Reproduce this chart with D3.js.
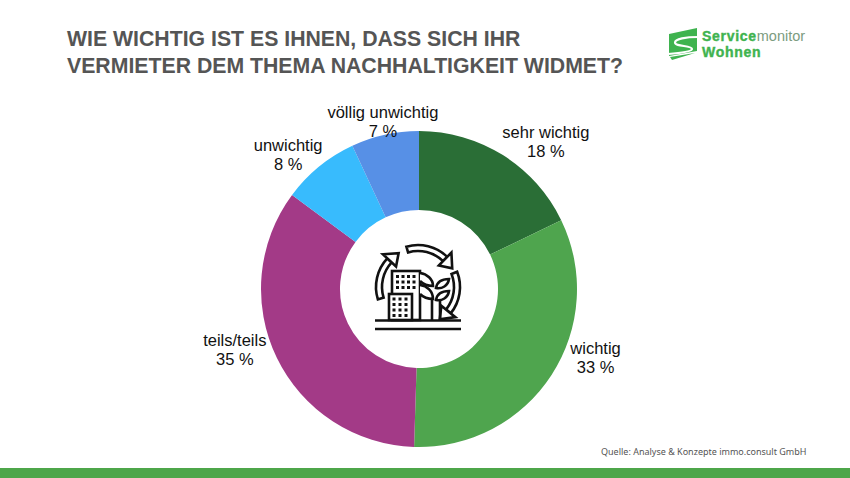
<!DOCTYPE html>
<html>
<head>
<meta charset="utf-8">
<script src="https://cdn.jsdelivr.net/npm/d3@7"></script>
<style>
  html, body { margin: 0; padding: 0; background: #fff; }
  svg { display: block; }
</style>
</head>
<body>
<svg id="chart"></svg>
<script>
const categories = ["sehr wichtig", "wichtig", "teils/teils", "unwichtig", "völlig unwichtig"];
const values = [18, 33, 35, 8, 7];
const colors = ["#2a6e36", "#4fa54e", "#a33a87", "#38bbfd", "#5790e6"];
const titleLines = ["WIE WICHTIG IST ES IHNEN, DASS SICH IHR", "VERMIETER DEM THEMA NACHHALTIGKEIT WIDMET?"];
const source = "Quelle: Analyse & Konzepte immo.consult GmbH";

const width = 850, height = 478;
const cx = 419, cy = 289;
const outerR = 158, innerR = 79;
const labelFont = "'Liberation Sans', Arial, sans-serif";

const svg = d3.select("#chart").attr("width", width).attr("height", height);

// title
svg.selectAll("text.title")
  .data(titleLines)
  .enter().append("text")
  .attr("class", "title")
  .attr("x", 67)
  .attr("y", (d, i) => 46 + i * 26.7)
  .attr("font-family", labelFont)
  .attr("font-weight", "bold")
  .attr("font-size", 21.25)
  .attr("fill", "#555555")
  .text((d) => d);

// donut
const pie = d3.pie().sort(null).value((d) => d)(values);
const arc = d3.arc().innerRadius(innerR).outerRadius(outerR);
const chart = svg.append("g").attr("transform", `translate(${cx},${cy})`);

chart.selectAll("path.slice")
  .data(pie)
  .enter().append("path")
  .attr("class", "slice")
  .attr("d", arc)
  .attr("fill", (d, i) => colors[i]);

// labels sit just outside the ring, nudged per slice like the original
const labelArc = d3.arc().innerRadius(outerR).outerRadius(outerR);
const labelNudge = [[43, -13], [44, -17], [-42, -8], [-31, -12], [-2, -13]];
const labels = chart.selectAll("text.label")
  .data(pie)
  .enter().append("text")
  .attr("class", "label")
  .attr("text-anchor", "middle")
  .attr("font-family", labelFont)
  .attr("font-size", 16.5)
  .attr("fill", "#111111")
  .attr("transform", (d, i) => {
    const c = labelArc.centroid(d);
    return `translate(${c[0] + labelNudge[i][0]},${c[1] + labelNudge[i][1]})`;
  });
labels.append("tspan").attr("x", 0).attr("y", -4).text((d, i) => categories[i]);
labels.append("tspan").attr("x", 0).attr("y", 15).text((d) => d.data + " %");

// centre icon
const icon = svg.append("g").attr("fill", "none").attr("stroke", "#111").attr("stroke-width", 2.6);
const ring = d3.arc().innerRadius(36).outerRadius(42);
function cycleArrow(a0, a1) {
  const g = icon.append("g").attr("transform", "translate(418,287)");
  g.append("path")
    .attr("d", ring({startAngle: a0, endAngle: a1}))
    .attr("fill", "#fff");
  const p = (r, a) => [r * Math.sin(a), -r * Math.cos(a)];
  g.append("path")
    .attr("fill", "#fff")
    .attr("stroke-linejoin", "miter")
    .attr("d", "M" + [p(30, a1), p(48, a1), p(39, a1 + 0.3)].join("L") + "Z");
}
cycleArrow(-0.28, 0.77);
cycleArrow(1.2, 2.25);
cycleArrow(-1.87, -0.82);

icon.append("rect").attr("x", 392).attr("y", 271).attr("width", 28).attr("height", 49).attr("fill", "#fff");
icon.append("rect").attr("x", 389).attr("y", 294).attr("width", 23).attr("height", 26).attr("fill", "#fff");
// windows
d3.range(3).forEach((r) => d3.range(4).forEach((c) => {
  icon.append("rect").attr("x", 396 + c * 5.5).attr("y", 275 + r * 5.5)
    .attr("width", 3).attr("height", 3).attr("fill", "#111").attr("stroke", "none");
}));
d3.range(4).forEach((r) => d3.range(3).forEach((c) => {
  icon.append("rect").attr("x", 392.5 + c * 6).attr("y", 297.5 + r * 5.5)
    .attr("width", 3).attr("height", 3).attr("fill", "#111").attr("stroke", "none");
}));
// plant
icon.append("path").attr("d", "M432 320V297M440 320V299");
icon.append("path").attr("d", "M420 273C427 274 433 279 433 286C428 286 423 284 420 281").attr("fill", "#fff");
icon.append("path").attr("d", "M420 285C427 286 433 291 433 299C428 299 423 297 420 294").attr("fill", "#fff");
icon.append("path").attr("d", "M436 288C437 282 442 279 449 279C448 286 442 289 436 288Z").attr("fill", "#fff");
icon.append("path").attr("d", "M436 300C437 294 442 291 449 291C448 298 442 301 436 300Z").attr("fill", "#fff");
icon.append("path").attr("d", "M375 320.5H461M375 329H461").attr("stroke-width", 2.6);

// logo
const logo = svg.append("g");
logo.append("path")
  .attr("fill", "#3fb34f")
  .attr("d", "M669 34L697 28V51L669 56Z");
logo.append("path")
  .attr("fill", "none").attr("stroke", "#fff").attr("stroke-width", 2.2)
  .attr("d", "M698 37C686 37 675 39 675 42.5C675 47 692 45 692 49C692 51.5 680 53 668 54");
logo.append("path")
  .attr("fill", "#3fb34f")
  .attr("d", "M670 57L695 53L672 60Z");
const logoLine = logo.append("text")
  .attr("x", 702).attr("y", 41)
  .attr("font-family", labelFont).attr("font-size", 14).attr("fill", "#3fb34f");
logoLine.append("tspan").attr("font-weight", "bold").attr("letter-spacing", 0.7)
  .attr("stroke", "#3fb34f").attr("stroke-width", 0.4).text("Service");
logoLine.append("tspan").attr("fill", "#7c9c80").attr("font-size", 14.5).text("monitor");
logo.append("text")
  .attr("x", 702).attr("y", 57)
  .attr("font-family", labelFont).attr("font-size", 14).attr("font-weight", "bold").attr("fill", "#3fb34f")
  .attr("letter-spacing", 0.7)
  .attr("stroke", "#3fb34f").attr("stroke-width", 0.4)
  .text("Wohnen");

// source and footer bar
svg.append("text")
  .attr("x", 601).attr("y", 455)
  .attr("font-family", "'Noto Sans', sans-serif")
  .attr("font-size", 9)
  .attr("fill", "#555555")
  .text(source);
svg.append("rect")
  .attr("x", 0).attr("y", 468).attr("width", width).attr("height", 10)
  .attr("fill", "#4da64a");
</script>
</body>
</html>
